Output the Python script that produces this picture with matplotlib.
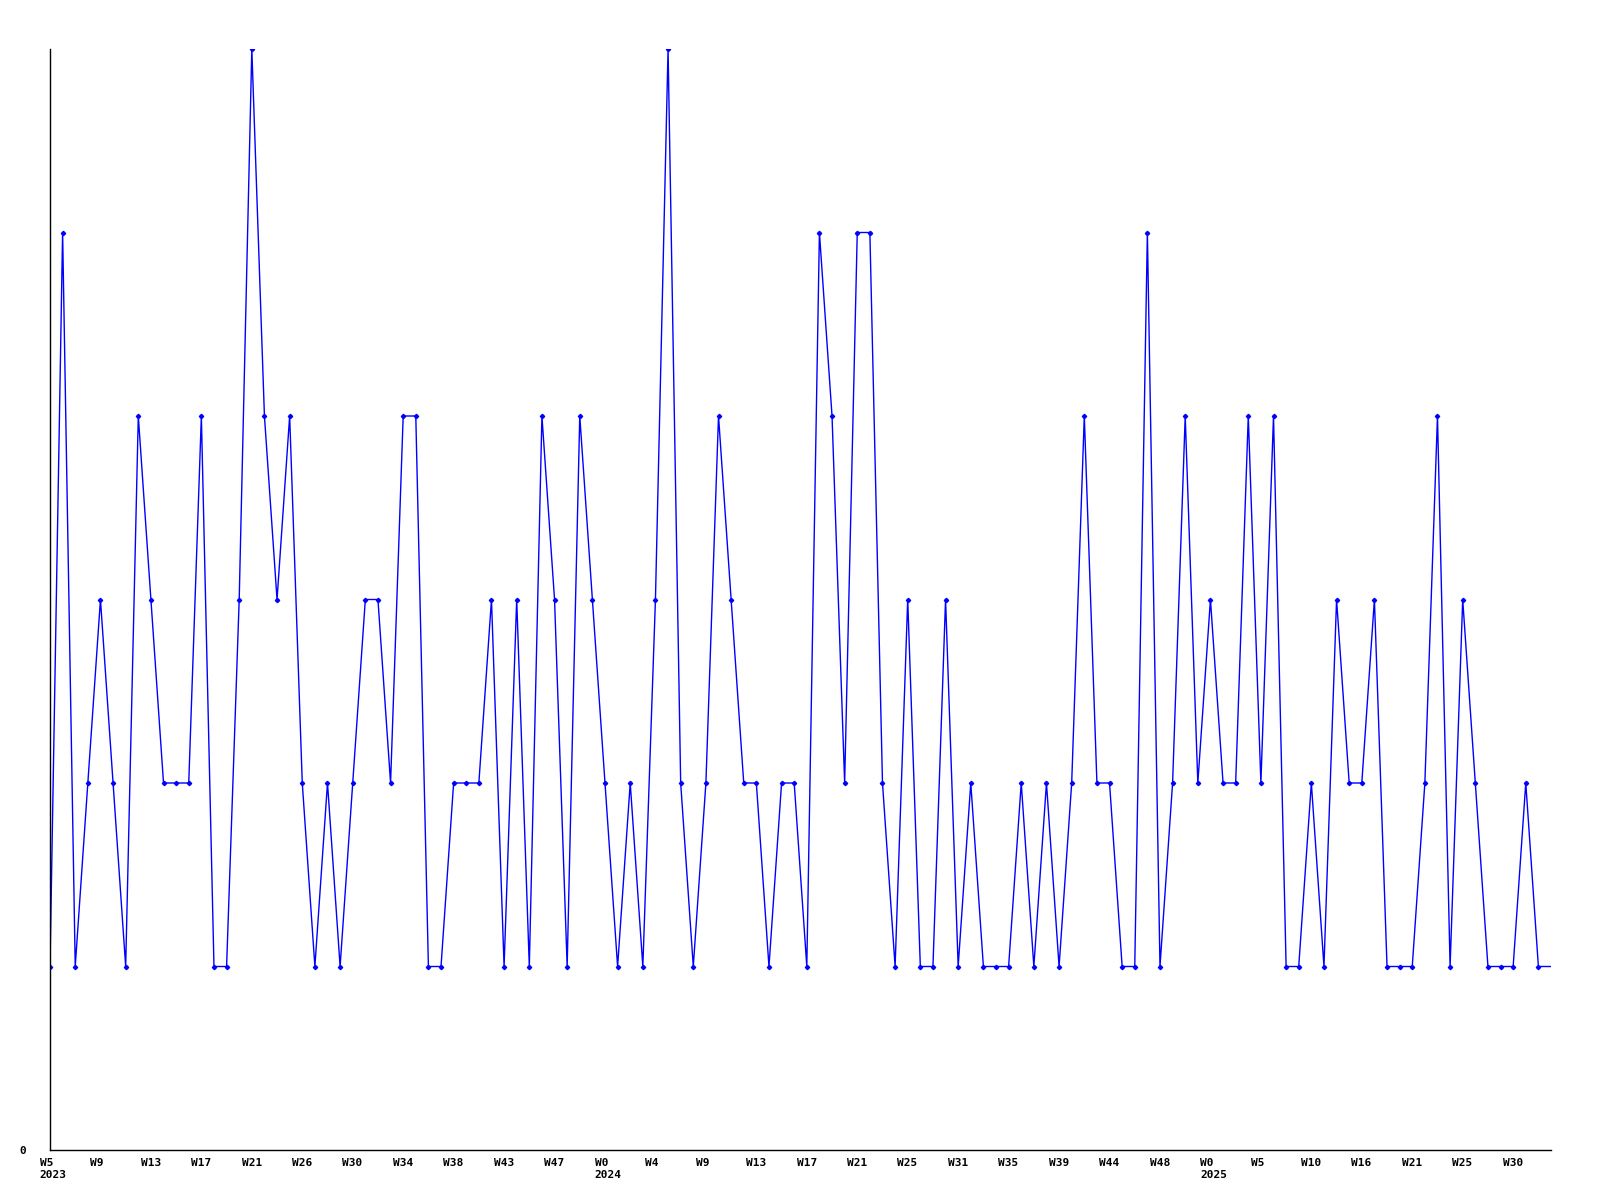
import numpy as np
import matplotlib
matplotlib.use("Agg")
import matplotlib.pyplot as plt
from matplotlib.transforms import ScaledTranslation

# weekly counts, week index 0 = 2023 W5
counts = [1, 5, 1, 2, 3, 2, 1, 4, 3, 2, 2, 2, 4, 1, 1, 3, 6, 4, 3, 4, 2,
          1, 2, 1, 2, 3, 3, 2, 4, 4, 1, 1, 2, 2, 2, 3, 1, 3, 1, 4,
          3, 1, 4, 3, 2, 1, 2, 1, 3, 6, 2, 1, 2, 4, 3, 2, 2, 1, 2, 2,
          1, 5, 4, 2, 5, 5, 2, 1, 3, 1, 1, 3, 1, 2, 1, 1, 1, 2, 1, 2,
          1, 2, 4, 2, 2, 1, 1, 5, 1, 2, 4, 2, 3, 2, 2, 4, 2, 4, 1, 1,
          2, 1, 3, 2, 2, 3, 1, 1, 1, 2, 4, 1, 3, 2, 1, 1, 1, 2, 1,
          1]

week_labels = ["W5", "W9", "W13", "W17", "W21", "W26", "W30", "W34", "W38",
               "W43", "W47", "W0", "W4", "W9", "W13", "W17", "W21", "W25",
               "W31", "W35", "W39", "W44", "W48", "W0", "W5", "W10", "W16",
               "W21", "W25", "W30"]
year_labels = {0: "2023", 11: "2024", 23: "2025"}

fig = plt.figure(figsize=(16, 12), dpi=100)
ax = fig.add_axes([50 / 1600, 50 / 1200, 1501 / 1600, 1101 / 1200])

x = np.arange(len(counts))
ax.plot(x, counts, color="#0000ff", lw=1.0, marker="D", ms=2.2,
        markevery=list(range(len(counts) - 1)))

ax.set_xlim(0, len(counts) - 1)
ax.set_ylim(0, 6)

for s in ["top", "right"]:
    ax.spines[s].set_visible(False)
for s in ["left", "bottom"]:
    ax.spines[s].set_linewidth(1.0)
    ax.spines[s].set_color("black")

mono = dict(family="DejaVu Sans Mono", weight="bold", size=8)

# a label every 4 weeks
tick_pos = np.arange(len(week_labels)) * 4
labels = [w + ("\n" + year_labels[i] if i in year_labels else "")
          for i, w in enumerate(week_labels)]
ax.set_xticks(tick_pos)
ax.set_xticklabels(labels, ha="left", va="top", linespacing=1.35, **mono)
ax.tick_params(axis="x", length=0, pad=5.5)
off = ScaledTranslation(-10.3 / 100, 0, fig.dpi_scale_trans)
for lab in ax.get_xticklabels():
    lab.set_transform(lab.get_transform() + off)

ax.set_yticks([0])
ax.set_yticklabels(["0"], **mono)
ax.tick_params(axis="y", length=0, pad=17)

fig.savefig("out.png", dpi=100)
